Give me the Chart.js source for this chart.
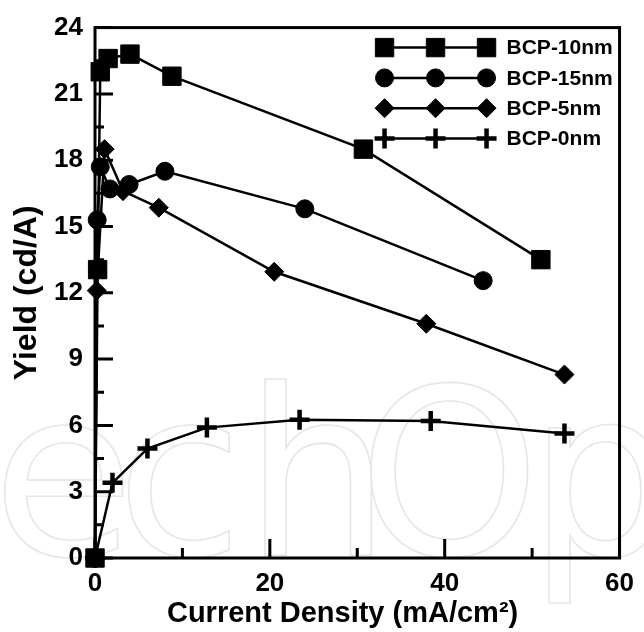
<!DOCTYPE html>
<html>
<head>
<meta charset="utf-8">
<script src="https://cdn.jsdelivr.net/npm/chart.js@4.4.0/dist/chart.umd.min.js"></script>
<style>
  html, body { margin: 0; padding: 0; background: #ffffff; }
  #wrap { width: 644px; height: 632px; }
</style>
</head>
<body>
<div id="wrap"><canvas id="c" width="644" height="632"></canvas></div>
<script>
// Yield versus current density for devices with different BCP layer thickness
const seriesNames = ['BCP-10nm', 'BCP-15nm', 'BCP-5nm', 'BCP-0nm'];

const density10 = [0, 0.3, 0.6, 1.5, 4.0, 8.8, 30.7, 51.0];
const yield10   = [0, 13.05, 22.0, 22.6, 22.8, 21.8, 18.5, 13.5];

const density15 = [0, 0.25, 0.6, 1.7, 3.9, 8.0, 24.0, 44.4];
const yield15   = [0, 15.3, 17.7, 16.7, 16.9, 17.5, 15.8, 12.55];

const density5  = [0, 0.2, 1.1, 3.2, 7.3, 20.5, 37.9, 53.7];
const yield5    = [0, 12.1, 18.5, 16.6, 15.85, 12.95, 10.6, 8.3];

const density0  = [0, 2.0, 6.0, 12.8, 23.4, 38.4, 53.7];
const yield0    = [0, 3.4, 4.95, 5.9, 6.26, 6.2, 5.63];

const xTicks = [0, 20, 40, 60];
const xMinorTicks = [10, 30, 50];
const yTicks = [0, 3, 6, 9, 12, 15, 18, 21, 24];
const yMinorTicks = [1.5, 4.5, 7.5, 10.5, 13.5, 16.5, 19.5, 22.5];

const xTitle = 'Current Density (mA/cm²)';
const yTitle = 'Yield (cd/A)';

const pointsOf = (xs, ys) => xs.map((x, i) => ({ x: x, y: ys[i] }));

const markerStyles = [
  { pointStyle: 'rect',    pointRadius: 13,  borderWidth: 1 },
  { pointStyle: 'circle',  pointRadius: 9,   borderWidth: 1 },
  { pointStyle: 'rectRot', pointRadius: 9.5, borderWidth: 1 },
  { pointStyle: 'cross',   pointRadius: 10,  borderWidth: 4.5 }
];
const seriesData = [
  pointsOf(density10, yield10),
  pointsOf(density15, yield15),
  pointsOf(density5, yield5),
  pointsOf(density0, yield0)
];

const datasets = seriesNames.map((name, i) => ({
  label: name,
  data: seriesData[i],
  showLine: true,
  borderColor: '#000000',
  backgroundColor: '#000000',
  pointBackgroundColor: '#000000',
  pointBorderColor: '#000000',
  borderWidth: 2.5,
  pointBorderWidth: markerStyles[i].borderWidth,
  pointStyle: markerStyles[i].pointStyle,
  pointRadius: markerStyles[i].pointRadius,
  pointHoverRadius: markerStyles[i].pointRadius,
  tension: 0,
  clip: false
}));

const FONT = "'Liberation Sans', Arial, sans-serif";

// Faint outlined lettering in the background
const backdropLetters = {
  id: 'backdropLetters',
  beforeDraw(chart) {
    const ctx = chart.ctx;
    ctx.save();
    ctx.font = "232px 'DejaVu Sans', sans-serif";
    ctx.strokeStyle = '#e6e6e6';
    ctx.lineWidth = 1.6;
    ctx.textBaseline = 'alphabetic';
    const glyphs = [['e', -8], ['c', 116], ['h', 244], ['O', 358], ['p', 528]];
    glyphs.forEach(([g, x]) => ctx.strokeText(g, x, 555));
    ctx.restore();
  }
};

// Box frame and inward tick marks
const frameTicks = {
  id: 'frameTicks',
  beforeDatasetsDraw(chart) {
    const { ctx, chartArea: a, scales } = chart;
    const xs = scales.x, ys = scales.y;
    ctx.save();
    ctx.strokeStyle = '#000';
    ctx.lineWidth = 3;
    ctx.lineCap = 'butt';
    ctx.beginPath();
    xTicks.forEach(v => { const p = xs.getPixelForValue(v); ctx.moveTo(p, a.bottom); ctx.lineTo(p, a.bottom - 19); });
    xMinorTicks.forEach(v => { const p = xs.getPixelForValue(v); ctx.moveTo(p, a.bottom); ctx.lineTo(p, a.bottom - 10); });
    yTicks.forEach(v => { const p = ys.getPixelForValue(v); ctx.moveTo(a.left, p); ctx.lineTo(a.left + 18, p); });
    yMinorTicks.forEach(v => { const p = ys.getPixelForValue(v); ctx.moveTo(a.left, p); ctx.lineTo(a.left + 9, p); });
    ctx.stroke();
    ctx.strokeRect(a.left, a.top, a.right - a.left, a.bottom - a.top);
    ctx.restore();
  }
};

// Horizontal axis title, set slightly left of the axis centre
const axisTitleX = {
  id: 'axisTitleX',
  afterDraw(chart) {
    const { ctx, chartArea: a } = chart;
    ctx.save();
    ctx.fillStyle = '#000';
    ctx.font = "bold 29px " + FONT;
    ctx.textAlign = 'center';
    ctx.textBaseline = 'alphabetic';
    ctx.fillText(xTitle, a.left + (a.right - a.left) * 0.472, 622);
    ctx.restore();
  }
};

// Legend with a line and three markers per entry
const lineLegend = {
  id: 'lineLegend',
  afterDraw(chart) {
    const { ctx, chartArea: a } = chart;
    const x0 = a.right - 235, x1 = a.right - 133, textX = a.right - 113;
    ctx.save();
    chart.data.datasets.forEach((ds, i) => {
      const y = a.top + 20 + i * 30.3;
      ctx.strokeStyle = '#000';
      ctx.lineWidth = 2.5;
      ctx.beginPath();
      ctx.moveTo(x0, y);
      ctx.lineTo(x1, y);
      ctx.stroke();
      [x0, (x0 + x1) / 2, x1].forEach(px => {
        ctx.fillStyle = '#000';
        ctx.strokeStyle = '#000';
        ctx.lineWidth = ds.pointBorderWidth;
        Chart.helpers.drawPoint(ctx, {
          pointStyle: ds.pointStyle,
          radius: ds.pointRadius,
          rotation: 0,
          borderWidth: ds.pointBorderWidth
        }, px, y);
      });
      ctx.fillStyle = '#000';
      ctx.font = "bold 21px " + FONT;
      ctx.textAlign = 'left';
      ctx.textBaseline = 'middle';
      ctx.fillText(ds.label, textX, y + 1);
    });
    ctx.restore();
  }
};

new Chart(document.getElementById('c'), {
  type: 'scatter',
  data: { datasets: datasets },
  plugins: [backdropLetters, frameTicks, axisTitleX, lineLegend],
  options: {
    responsive: false,
    devicePixelRatio: 1,
    animation: false,
    layout: { padding: { top: 25, right: 17, left: 0, bottom: 0 } },
    plugins: { legend: { display: false }, tooltip: { enabled: false } },
    scales: {
      x: {
        type: 'linear',
        min: 0, max: 60,
        afterBuildTicks: s => { s.ticks = xTicks.map(v => ({ value: v })); },
        afterFit: s => { s.height = 74; },
        grid: { display: false, drawTicks: false },
        border: { display: false },
        ticks: { color: '#000', padding: 10, font: { family: FONT, size: 26, weight: 'bold' } },
        title: { display: false }
      },
      y: {
        type: 'linear',
        min: 0, max: 24,
        afterBuildTicks: s => { s.ticks = yTicks.map(v => ({ value: v })); },
        afterFit: s => { s.width = 95; },
        grid: { display: false, drawTicks: false },
        border: { display: false },
        ticks: { color: '#000', padding: 12, font: { family: FONT, size: 26, weight: 'bold' } },
        title: {
          display: true,
          text: yTitle,
          color: '#000',
          font: { family: FONT, size: 32, weight: 'bold' },
          padding: { top: 8, bottom: 0 }
        }
      }
    }
  }
});
</script>
</body>
</html>
